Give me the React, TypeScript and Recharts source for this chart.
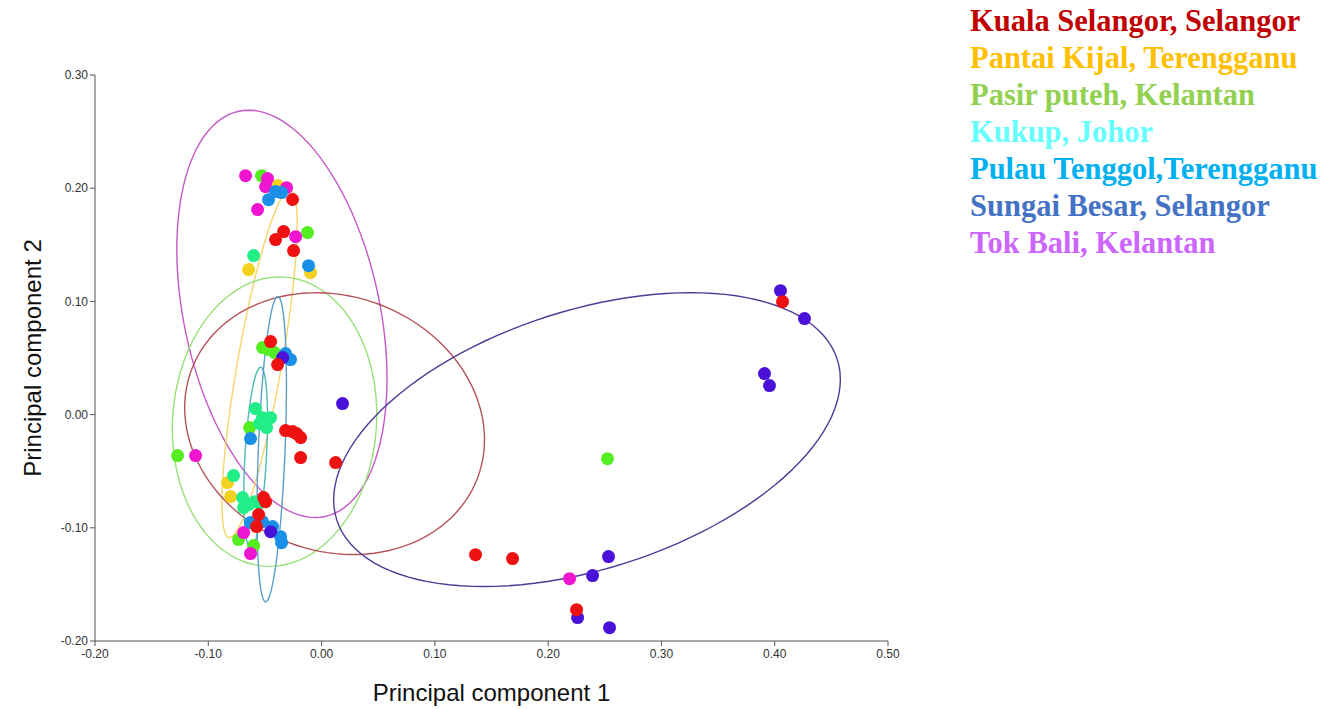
import { ScatterChart, Scatter, XAxis, YAxis } from "recharts";

type Pt = { x: number; y: number };

// PCA scores
const kualaSelangor: Pt[] = [
  { x: -0.0256, y: 0.19 }, { x: -0.0335, y: 0.1617 }, { x: -0.0406, y: 0.1546 },
  { x: -0.0247, y: 0.1449 }, { x: -0.045, y: 0.0645 }, { x: -0.0388, y: 0.0442 },
  { x: -0.0318, y: -0.0141 }, { x: -0.0256, y: -0.015 }, { x: -0.0221, y: -0.0168 },
  { x: -0.0185, y: -0.0203 }, { x: -0.0185, y: -0.038 }, { x: 0.0124, y: -0.0424 },
  { x: -0.0512, y: -0.0733 }, { x: -0.0494, y: -0.0769 }, { x: -0.0556, y: -0.0883 },
  { x: -0.0574, y: -0.0989 }, { x: 0.1359, y: -0.1237 }, { x: 0.1686, y: -0.1272 },
  { x: 0.2251, y: -0.1723 }, { x: 0.4069, y: 0.0998 },
];
const pantaiKijal: Pt[] = [
  { x: -0.0388, y: 0.2023 }, { x: -0.0644, y: 0.1281 }, { x: -0.0097, y: 0.1254 },
  { x: -0.083, y: -0.0601 }, { x: -0.0803, y: -0.0724 },
];
const pasirPuteh: Pt[] = [
  { x: -0.053, y: 0.2111 }, { x: -0.0124, y: 0.1608 }, { x: -0.0521, y: 0.0592 },
  { x: -0.0468, y: 0.0574 }, { x: -0.0415, y: 0.0548 }, { x: -0.0635, y: -0.0115 },
  { x: -0.1271, y: -0.0362 }, { x: 0.2524, y: -0.0389 }, { x: -0.0733, y: -0.1104 },
  { x: -0.06, y: -0.1157 },
];
const kukup: Pt[] = [
  { x: -0.06, y: 0.1405 }, { x: -0.0583, y: 0.0053 }, { x: -0.0521, y: -0.0027 },
  { x: -0.045, y: -0.0027 }, { x: -0.0485, y: -0.0115 }, { x: -0.0547, y: -0.008 },
  { x: -0.0777, y: -0.0539 }, { x: -0.0697, y: -0.0733 }, { x: -0.0644, y: -0.0795 },
  { x: -0.0591, y: -0.0769 }, { x: -0.0688, y: -0.0822 }, { x: -0.0547, y: -0.0777 },
];
const pulauTenggol: Pt[] = [
  { x: -0.0468, y: 0.1899 }, { x: -0.0406, y: 0.197 }, { x: -0.0353, y: 0.1961 },
  { x: -0.0115, y: 0.1316 }, { x: -0.0318, y: 0.0539 }, { x: -0.0274, y: 0.0486 },
  { x: -0.0627, y: -0.0212 }, { x: -0.0627, y: -0.0954 }, { x: -0.0521, y: -0.0945 },
  { x: -0.0432, y: -0.0989 }, { x: -0.0362, y: -0.1078 }, { x: -0.0353, y: -0.1131 },
];
const sungaiBesar: Pt[] = [
  { x: -0.0344, y: 0.0504 }, { x: 0.0185, y: 0.0097 }, { x: -0.045, y: -0.1034 },
  { x: 0.4051, y: 0.1095 }, { x: 0.4263, y: 0.0848 }, { x: 0.391, y: 0.0362 },
  { x: 0.3954, y: 0.0256 }, { x: 0.2533, y: -0.1254 }, { x: 0.2392, y: -0.1422 },
  { x: 0.226, y: -0.1793 }, { x: 0.2542, y: -0.1882 },
];
const tokBali: Pt[] = [
  { x: -0.0671, y: 0.2111 }, { x: -0.0477, y: 0.2085 }, { x: -0.0494, y: 0.2014 },
  { x: -0.0309, y: 0.2005 }, { x: -0.0565, y: 0.1811 }, { x: -0.0229, y: 0.1572 },
  { x: -0.1112, y: -0.0362 }, { x: -0.0688, y: -0.1042 }, { x: -0.0627, y: -0.1228 },
  { x: 0.2189, y: -0.1449 },
];

// confidence ellipses: centre, semi-axes, angle of major axis (deg)
const ellipses = [
  { cx: -0.035, cy: 0.089, a: 0.183, b: 0.0865, deg: 102, color: "#c55ac8" },
  { cx: -0.0547, cy: 0.045, a: 0.156, b: 0.0195, deg: 80, color: "#f3d66a" },
  { cx: -0.0415, cy: -0.0062, a: 0.128, b: 0.09, deg: 86, color: "#98e07a" },
  { cx: 0.0115, cy: -0.008, a: 0.135, b: 0.1125, deg: -21, color: "#b4525a" },
  { cx: 0.2343, cy: -0.0221, a: 0.232, b: 0.1142, deg: 17.8, color: "#4e3c96" },
  { cx: -0.0582, cy: -0.038, a: 0.08, b: 0.0095, deg: 86.8, color: "#4fb8b8" },
  { cx: -0.044, cy: -0.0305, a: 0.135, b: 0.0118, deg: 87.7, color: "#5a9ec8" },
];

const groups = [
  { name: "Kuala Selangor, Selangor", data: kualaSelangor, dot: "#ee1111", text: "#c00000" },
  { name: "Pantai Kijal, Terengganu", data: pantaiKijal, dot: "#f2d21e", text: "#ffc000" },
  { name: "Pasir puteh, Kelantan", data: pasirPuteh, dot: "#55ee22", text: "#92d050" },
  { name: "Kukup, Johor", data: kukup, dot: "#22ee88", text: "#66ffff" },
  { name: "Pulau Tenggol,Terengganu", data: pulauTenggol, dot: "#1a8fe8", text: "#00b0f0" },
  { name: "Sungai Besar, Selangor", data: sungaiBesar, dot: "#4a12d8", text: "#4472c4" },
  { name: "Tok Bali, Kelantan", data: tokBali, dot: "#ee14d0", text: "#cc66ff" },
];

// draw order of the dots (back to front)
const drawOrder = [1, 2, 3, 6, 4, 5, 0];

const xTicks = [-0.2, -0.1, 0, 0.1, 0.2, 0.3, 0.4, 0.5];
const yTicks = [-0.2, -0.1, 0, 0.1, 0.2, 0.3];

function ellipsePoints(e: (typeof ellipses)[number]) {
  const phi = (e.deg * Math.PI) / 180;
  const pts: Pt[] = [];
  for (let i = 0; i <= 120; i++) {
    const t = (i / 120) * Math.PI * 2;
    const u = e.a * Math.cos(t);
    const v = e.b * Math.sin(t);
    pts.push({
      x: e.cx + u * Math.cos(phi) - v * Math.sin(phi),
      y: e.cy + u * Math.sin(phi) + v * Math.cos(phi),
    });
  }
  return pts;
}

const tickStyle = { fontSize: 12, fill: "#333", fontFamily: "Liberation Sans, Arial, sans-serif" };

export default function App() {
  return (
    <div style={{ position: "absolute", left: 0, top: 0, width: 1333, height: 709, background: "#fff" }}>
      <ScatterChart width={960} height={709} margin={{ top: 75, right: 72, bottom: 18, left: 35 }}>
        <XAxis
          type="number"
          dataKey="x"
          domain={[-0.2, 0.5]}
          ticks={xTicks}
          tickFormatter={(v: number) => v.toFixed(2)}
          tick={tickStyle}
          stroke="#555"
          tickSize={5}
          tickMargin={3}
          height={50}
          allowDataOverflow
          label={{
            value: "Principal component 1",
            position: "bottom",
            offset: -7,
            style: { fontSize: 24, fill: "#111", fontFamily: "Liberation Sans, Arial, sans-serif" },
          }}
        />
        <YAxis
          type="number"
          dataKey="y"
          domain={[-0.2, 0.3]}
          ticks={yTicks}
          tickFormatter={(v: number) => v.toFixed(2)}
          tick={tickStyle}
          stroke="#555"
          tickSize={5}
          tickMargin={2}
          width={60}
          allowDataOverflow
          label={{
            value: "Principal component 2",
            angle: -90,
            position: "left",
            offset: 3,
            style: { textAnchor: "middle", fontSize: 24, fill: "#111", fontFamily: "Liberation Sans, Arial, sans-serif" },
          }}
        />
        {ellipses.map((e, i) => (
          <Scatter
            key={"ell" + i}
            data={ellipsePoints(e)}
            line={{ stroke: e.color, strokeWidth: 1.4 }}
            lineType="joint"
            shape={() => <g />}
            isAnimationActive={false}
          />
        ))}
        {drawOrder.map((gi) => {
          const g = groups[gi];
          return (
            <Scatter
              key={g.name}
              name={g.name}
              data={g.data}
              fill={g.dot}
              shape={(p: any) => <circle cx={p.cx} cy={p.cy} r={6.5} fill={g.dot} />}
              isAnimationActive={false}
            />
          );
        })}
      </ScatterChart>
      <div
        style={{
          position: "absolute",
          left: 970,
          top: 3,
          fontFamily: "Liberation Serif, 'Times New Roman', serif",
          fontWeight: "bold",
          fontSize: 30.5,
          lineHeight: "37px",
          whiteSpace: "nowrap",
        }}
      >
        {groups.map((g) => (
          <div key={g.name} style={{ color: g.text }}>
            {g.name}
          </div>
        ))}
      </div>
    </div>
  );
}
